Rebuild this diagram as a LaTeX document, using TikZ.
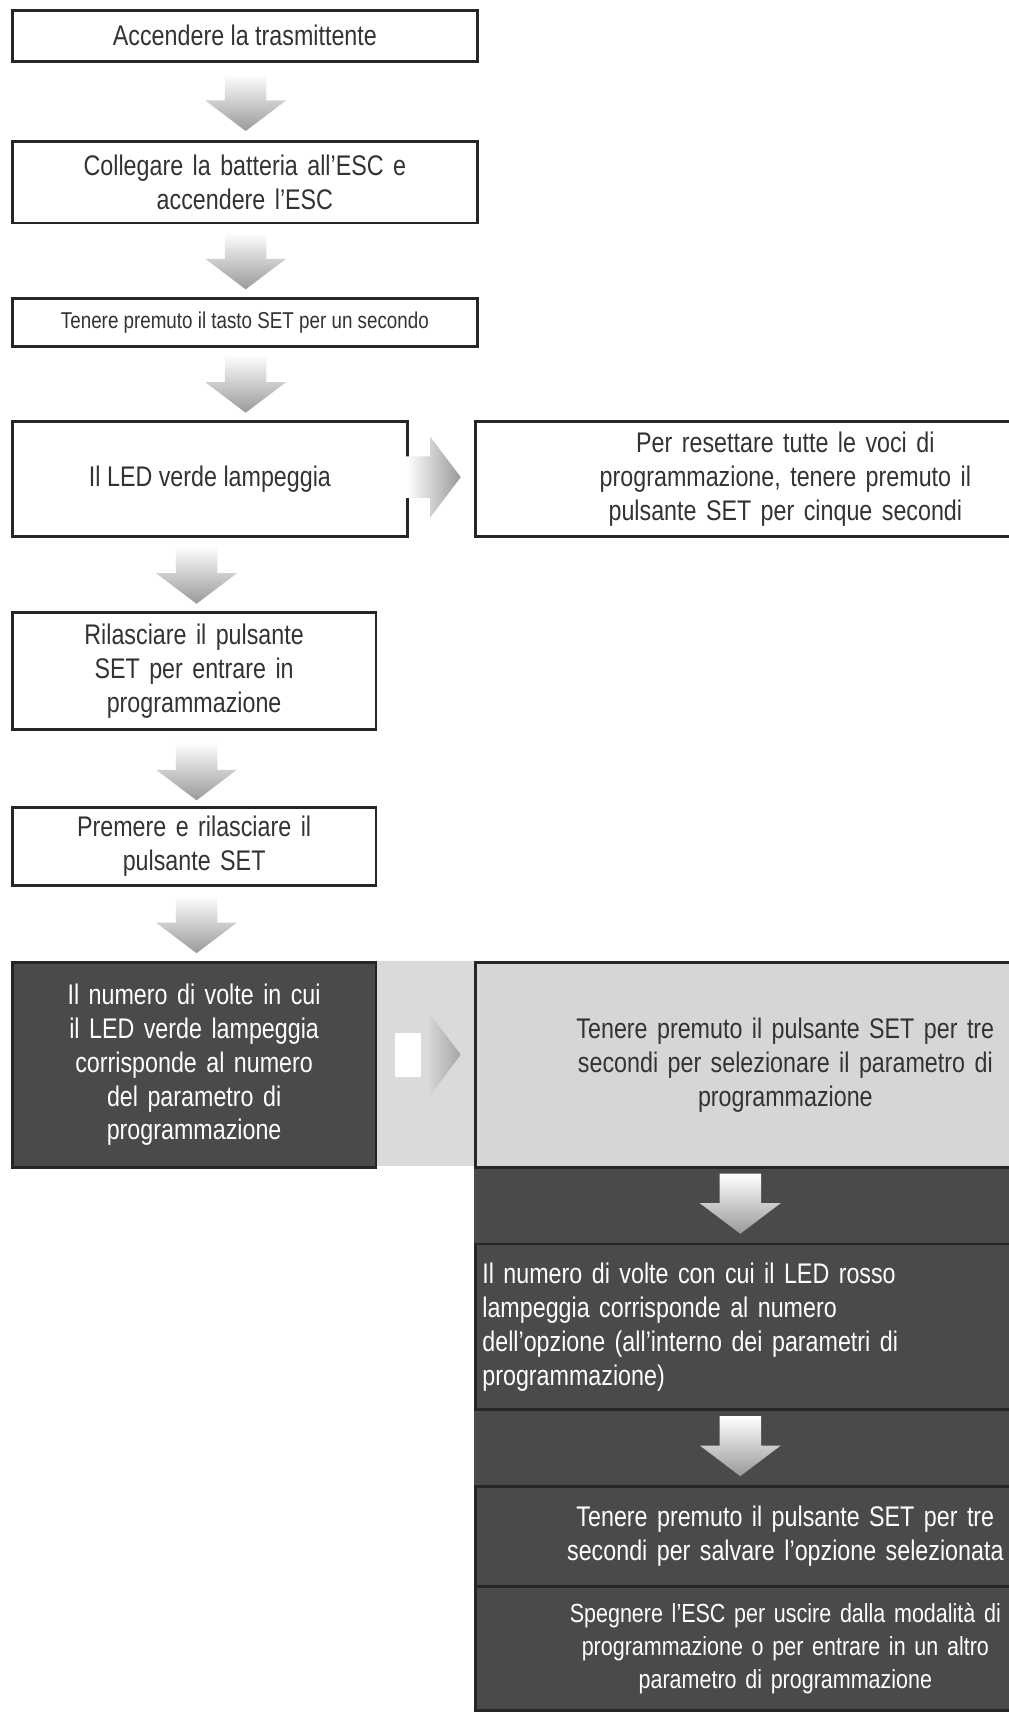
\documentclass[tikz,border=0pt]{standalone}
\usepackage{fontspec}
\setmainfont[FakeStretch=0.82]{Liberation Sans}
\begin{document}
\begin{tikzpicture}[x=1pt,y=-1pt,
  box/.style={draw=black!85,line width=2.6pt,fill=white,text=black!80,align=center,inner sep=2pt,anchor=north west,font=\fontsize{26}{31}\selectfont},
  dbox/.style={box,fill=dkg,text=white},
  lbox/.style={box,fill=ltg}]
\definecolor{dkg}{HTML}{4A4A4A}
\definecolor{ltg}{HTML}{D6D6D6}
\newcommand\darr[3]{% cx, top, bottom
  \shade[top color=white,bottom color=black!40]
   (#1-19,#2) -- (#1+19,#2) -- (#1+19,#3-28) -- (#1+37,#3-28) -- (#1,#3) -- (#1-37,#3-28) -- (#1-19,#3-28) -- cycle;}
\newcommand\rarr[3]{% left, right, cy
  \shade[left color=white,right color=black!40]
   (#1,#3-19) -- (#2-28,#3-19) -- (#2-28,#3-37) -- (#2,#3) -- (#2-28,#3+37) -- (#2-28,#3+19) -- (#1,#3+19) -- cycle;}
\useasboundingbox[fill=white] (0,0) rectangle (924,1568);
% backgrounds
\fill[ltg!90] (10,880) rectangle (1002,1068);
\fill[dkg] (434,1068) rectangle (1002,1565);
% boxes
\node[box,minimum width=426pt,minimum height=47pt] (b1) at (10,8) {Accendere la trasmittente};
\node[box,minimum width=426pt,minimum height=75pt,text width=380pt] (b2) at (10,128) {Collegare la batteria all'ESC e\\accendere l'ESC};
\node[box,minimum width=426pt,minimum height=44pt,font=\fontsize{21}{25}\selectfont] (b3) at (10,272) {Tenere premuto il tasto SET per un secondo};
\node[box,minimum width=362pt,minimum height=105pt] (b4) at (10,385) {Il LED verde lampeggia};
\node[box,minimum width=568pt,minimum height=105pt,text width=540pt] (b4r) at (434,385) {Per resettare tutte le voci di\\programmazione, tenere premuto il\\pulsante SET per cinque secondi};
\node[box,minimum width=333pt,minimum height=107pt,text width=300pt] (b5) at (10,560) {Rilasciare il pulsante\\SET per entrare in\\programmazione};
\node[box,minimum width=333pt,minimum height=72pt,text width=300pt] (b6) at (10,738) {Premere e rilasciare il\\pulsante SET};
\node[dbox,minimum width=333pt,minimum height=188pt,text width=300pt] (b7) at (10,880) {Il numero di volte in cui\\il LED verde lampeggia\\corrisponde al numero\\del parametro di\\programmazione};
\node[lbox,minimum width=568pt,minimum height=188pt,text width=540pt] (b7r) at (434,880) {Tenere premuto il pulsante SET per tre\\secondi per selezionare il parametro di\\programmazione};
\node[dbox,minimum width=568pt,minimum height=152pt,text width=555pt,align=left] (b8) at (434,1138) {Il numero di volte con cui il LED rosso\\lampeggia corrisponde al numero\\dell'opzione (all'interno dei parametri di\\programmazione)};
\node[dbox,minimum width=568pt,minimum height=92pt,text width=555pt] (b9) at (434,1360) {Tenere premuto il pulsante SET per tre\\secondi per salvare l'opzione selezionata};
\node[dbox,minimum width=568pt,minimum height=113pt,text width=555pt,font=\fontsize{24}{30}\selectfont] (b10) at (434,1452) {Spegnere l'ESC per uscire dalla modalità di\\programmazione o per entrare in un altro\\parametro di programmazione};
% arrows
\darr{225}{68}{120}
\darr{225}{213}{265}
\darr{225}{325}{378}
\darr{180}{500}{553}
\darr{180}{680}{733}
\darr{180}{820}{873}
\rarr{372}{422}{437}
\fill[white] (362,946) rectangle (386,986);
\shade[left color=ltg,right color=black!35] (392,966) ++(0,-19) -- (394,947) -- (394,929) -- (422,966) -- (394,1003) -- (394,985) -- (392,985) -- cycle;
\darr{678}{1075}{1130}
\darr{678}{1297}{1352}
\end{tikzpicture}
\end{document}
